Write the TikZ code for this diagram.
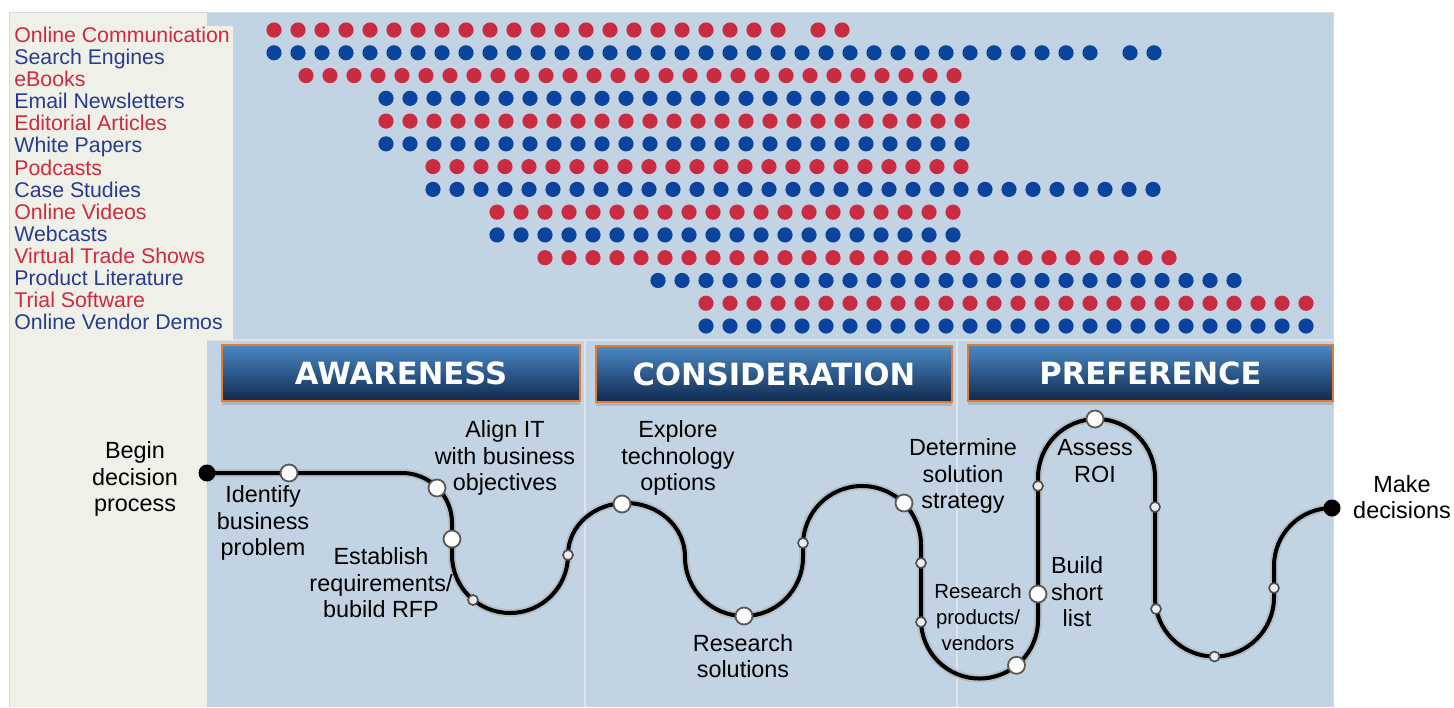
\documentclass[tikz,border=0pt]{standalone}
\usepackage{tikz}
\usepackage{xcolor}
\usepackage{fontspec}
\setmainfont{Liberation Sans}
\newfontfamily\stagefont{DejaVu Sans}
\usetikzlibrary{shadows}

\definecolor{panelblue}{HTML}{C2D4E3}
\definecolor{panelbeige}{HTML}{EFF0E7}
\definecolor{dotred}{HTML}{C92B40}
\definecolor{dotblue}{HTML}{0B449E}
\definecolor{txtred}{HTML}{CF2A3F}
\definecolor{txtblue}{HTML}{2A3B8F}
\definecolor{stagetop}{HTML}{4B89C5}
\definecolor{stagebot}{HTML}{10294F}
\definecolor{stageedge}{HTML}{E67A30}

\begin{document}
\begin{tikzpicture}[x=0.5pt,y=0.5pt,
	stage/.style={draw=stageedge,line width=1pt,top color=stagetop,bottom color=stagebot,text=white,font=\stagefont\bfseries\fontsize{15.3}{16}\selectfont,minimum height=28pt,inner sep=0pt,drop shadow={opacity=0.35,shadow xshift=0pt,shadow yshift=-2pt}},
	stop/.style={circle,fill=white,draw=black!65,line width=0.9pt,minimum size=8.5pt,inner sep=0pt},
	minor/.style={circle,fill=white!85!gray,draw=black!70,line width=0.8pt,minimum size=5pt,inner sep=0pt},
	endpt/.style={circle,fill=black,minimum size=8.5pt,inner sep=0pt},
	road/.style={line width=2pt,preaction={draw=black!40,line width=4pt,opacity=0.35}},
	say/.style={align=center,font=\fontsize{11.7}{13.3}\selectfont},
	media/.style={anchor=base west,inner xsep=0pt,font=\fontsize{10.65}{12}\selectfont}]
			\useasboundingbox (0,0) rectangle (1454,-707);
			\fill[panelblue] (207,-12) rectangle (1333,-707);
			\fill[panelbeige] (9,-12) rectangle (207,-707);
			\fill[panelbeige] (9,-26) rectangle (233,-340);
			\draw[white,opacity=0.4,line width=1pt] (207,-340) -- (1333,-340) (585,-340) -- (585,-707) (957,-340) -- (957,-707);
			\draw[black!15,line width=0.5pt] (9,-707) |- (1333,-12) -- (1333,-707);
			
			\foreach \t/\c [count=\i] in {Online Communication/txtred, Search Engines/txtblue, eBooks/txtred, Email Newsletters/txtblue, Editorial Articles/txtred, White Papers/txtblue, Podcasts/txtred, Case Studies/txtblue, Online Videos/txtred, Webcasts/txtblue, Virtual Trade Shows/txtred, Product Literature/txtblue, Trial Software/txtred, Online Vendor Demos/txtblue}
				\node (row\i)[media,text=\c] at (14,{-42.3-22.13*(\i-1)}) {\t};
			
			\foreach \r/\x/\n/\c in {1/274/21/dotred, 2/274/34/dotblue, 3/306/27/dotred, 4/386/24/dotblue, 5/386/24/dotred, 6/386/24/dotblue, 7/433/22/dotred, 8/433/30/dotblue, 9/497/19/dotred, 10/497/19/dotblue, 11/545/26/dotred, 12/658/24/dotblue, 13/706/25/dotred, 14/706/25/dotblue}
				\foreach \k in {0,...,\n}
					\fill[\c] ({\x+24*\k},{-30-22.77*(\r-1)}) circle (7.6);
			\fill[dotred] (818,-30) circle (7.6) (842,-30) circle (7.6);
			\fill[dotblue] (1130,-52.77) circle (7.6) (1154,-52.77) circle (7.6);
			
			\node (aware)[stage,minimum width=179pt] at (401,-373) {AWARENESS};
			\node (consider)[stage,minimum width=178pt] at (774,-374) {CONSIDERATION};
			\node (prefer)[stage,minimum width=182.5pt] at (1150.5,-373) {PREFERENCE};
			
			\coordinate (w0) at (207,-473);
			\coordinate (w1) at (402,-473);
			\coordinate (w2) at (452,-523);
			\coordinate (w3) at (452,-555);
			\coordinate (w4) at (510,-613);
			\coordinate (w5) at (568,-555);
			\coordinate (w6) at (626,-503);
			\coordinate (w7) at (685,-557);
			\coordinate (w8) at (744,-616);
			\coordinate (w9) at (803,-557);
			\coordinate (w10) at (803,-545);
			\coordinate (w11) at (862,-486);
			\coordinate (w12) at (921,-545);
			\coordinate (w13) at (921,-620);
			\coordinate (w14) at (979.5,-678.5);
			\coordinate (w15) at (1038,-620);
			\coordinate (w16) at (1038,-477.5);
			\coordinate (w17) at (1096.5,-419);
			\coordinate (w18) at (1155,-477.5);
			\coordinate (w19) at (1155,-597);
			\coordinate (w20) at (1214.5,-656.5);
			\coordinate (w21) at (1274,-597);
			\coordinate (w22) at (1274,-566);
			\coordinate (w23) at (1332,-508);
			\draw[road] (w0) -- (w1) to[out=0,in=90] (w2) -- (w3) to[out=-90,in=180] (w4) to[out=0,in=-90] (w5)
				to[out=90,in=180] (w6) to[out=0,in=90] (w7) to[out=-90,in=180] (w8) to[out=0,in=-90] (w9) -- (w10)
				to[out=90,in=180] (w11) to[out=0,in=90] (w12) -- (w13) to[out=-90,in=180] (w14) to[out=0,in=-90] (w15) -- (w16)
				to[out=90,in=180] (w17) to[out=0,in=90] (w18) -- (w19) to[out=-90,in=180] (w20) to[out=0,in=-90] (w21) -- (w22)
				to[out=90,in=180] (w23);
			
			\node (begin)[endpt] at (w0) {};
			\node (finish)[endpt] at (w23) {};
			\node (identify)[stop] at (289,-473) {};
			\node (align)[stop] at (437,-488) {};
			\node (establish)[stop] at (452,-539) {};
			\node (explore)[stop] at (622,-504) {};
			\node (ressol)[stop] at (w8) {};
			\node (determine)[stop] at (904,-503) {};
			\node (resprod)[stop] at (1016.5,-665.3) {};
			\node (shortlist)[stop] at (1038,-594) {};
			\node (roi)[stop] at (1095,-419) {};
			\node (tick1)[minor] at (473,-600) {};
			\node (tick2)[minor] at (w5) {};
			\node (tick3)[minor] at (803,-543) {};
			\node (tick4)[minor] at (921,-563) {};
			\node (tick5)[minor] at (921,-622) {};
			\node (tick6)[minor] at (1038,-486) {};
			\node (tick7)[minor] at (1155,-507) {};
			\node (tick8)[minor] at (1156,-609) {};
			\node (tick9)[minor] at (w20) {};
			\node (tick10)[minor] at (1274,-588) {};
			
			\node (lbegin)[say] at (135,-479) {Begin\\decision\\process};
			\node (lidentify)[say] at (263,-523) {Identify\\business\\problem};
			\node (lestablish)[say] at (381,-583) {Establish\\requirements/\\bubild RFP};
			\node (lalign)[say] at (505,-458) {Align IT\\with business\\objectives};
			\node (lexplore)[say] at (678,-458) {Explore\\technology\\options};
			\node (lressol)[say] at (743,-656) {Research\\solutions};
			\node (ldetermine)[say] at (963,-476) {Determine\\solution\\strategy};
			\node (lresprod)[say,font=\fontsize{10.2}{13}\selectfont] at (978,-617) {Research\\products/\\vendors};
			\node (lshort)[say] at (1077,-592) {Build\\short\\list};
			\node (lroi)[say] at (1095,-461) {Assess\\ROI};
			\node (lmake)[say] at (1402,-497) {Make\\decisions};
		\end{tikzpicture}
\end{document}
